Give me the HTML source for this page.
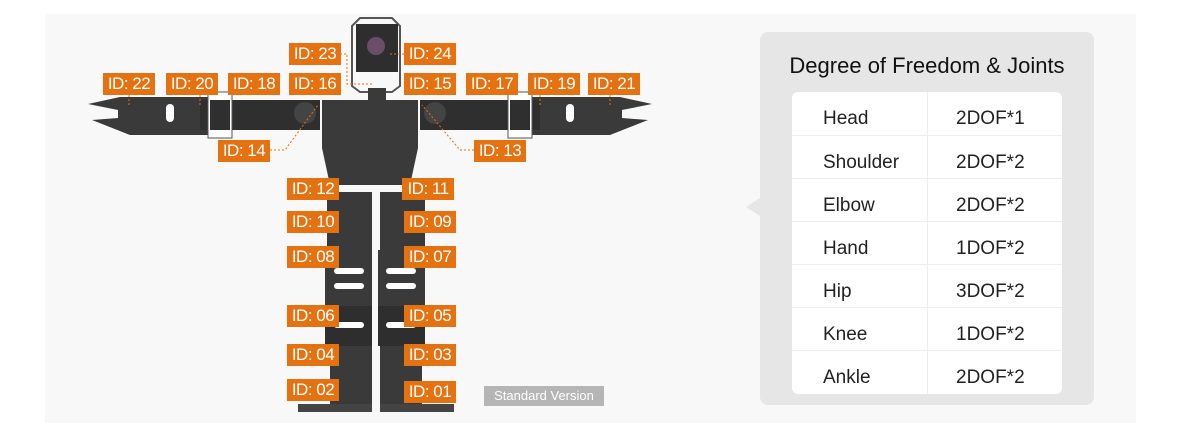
<!DOCTYPE html>
<html><head><meta charset="utf-8"><style>
body{margin:0;width:1200px;height:428px;background:#fff;position:relative;overflow:hidden;font-family:"Liberation Sans",sans-serif}
#bg{position:absolute;left:45px;top:14px;width:1091px;height:409px;background:#f8f8f8}
.id{position:absolute;width:52px;height:22px;background:#e57211;color:#fff;font-size:17px;line-height:22px;text-align:center;letter-spacing:-0.5px}
#panel{position:absolute;left:760px;top:32px;width:334px;height:373px;background:#e6e6e6;border-radius:8px}
#tri{position:absolute;left:746px;top:198px;width:0;height:0;border-top:9px solid transparent;border-bottom:9px solid transparent;border-right:14px solid #e6e6e6}
#title{position:absolute;left:760px;top:53px;width:334px;text-align:center;font-size:22px;color:#111}
#tbl{position:absolute;left:792px;top:92px;width:270px;height:302px;background:#fff;border-radius:6px;overflow:hidden}
.row{position:absolute;left:0;width:270px;height:43px;border-top:1px solid #eee;font-size:19px;color:#222;line-height:43px}
.row span{position:absolute;top:5px}
.a{left:31px}.b{left:164px}
#div{position:absolute;left:135px;top:0;width:1px;height:302px;background:#eee}
#sv{position:absolute;left:484px;top:386px;width:120px;height:20px;background:#b5b5b5;color:#fff;font-size:13px;line-height:20px;text-align:center}
svg{position:absolute;left:0;top:0}
</style></head><body>
<div id="bg"></div>
<svg width="1200" height="428">
<g fill="#3a3a3a">
<!-- head -->
<path d="M352 26 L360 18 L392 18 L400 26 L400 86 L392 92 L360 92 L352 86Z" fill="none" stroke="#555" stroke-width="2"/>
<rect x="356" y="24" width="42" height="48" fill="#2e2e2e"/>
<circle cx="376" cy="46" r="9" fill="#6b4d6a"/>
<rect x="368" y="88" width="18" height="12"/>
<!-- torso -->
<path d="M322 100 L418 100 L418 148 L410 185 L330 185 L322 148Z"/>
<!-- left arm -->
<path d="M88 104 L120 97 L210 97 L210 135 L130 135 L92 120 L118 118 L118 110Z"/>
<rect x="200" y="100" width="120" height="30" fill="#2f2f2f"/>
<rect x="208" y="92" width="24" height="46" fill="#fff" stroke="#555"/>
<rect x="210" y="100" width="20" height="30" fill="#2f2f2f"/>
<circle cx="305" cy="113" r="11" fill="#444"/>
<!-- right arm -->
<path d="M652 104 L620 97 L530 97 L530 135 L610 135 L648 120 L622 118 L622 110Z"/>
<rect x="420" y="100" width="120" height="30" fill="#2f2f2f"/>
<rect x="508" y="92" width="24" height="46" fill="#fff" stroke="#555"/>
<rect x="510" y="100" width="20" height="30" fill="#2f2f2f"/>
<circle cx="435" cy="113" r="11" fill="#444"/>
<!-- legs -->
<rect x="327" y="192" width="45" height="60"/>
<rect x="380" y="192" width="45" height="60"/>
<rect x="325" y="250" width="47" height="60"/>
<rect x="378" y="250" width="47" height="60"/>
<rect x="325" y="306" width="47" height="40" fill="#2e2e2e"/>
<rect x="378" y="306" width="47" height="40" fill="#2e2e2e"/>
<rect x="330" y="346" width="42" height="60"/>
<rect x="380" y="346" width="42" height="60"/>
<rect x="298" y="404" width="74" height="8" fill="#444"/>
<rect x="380" y="404" width="74" height="8" fill="#444"/>
</g>
<g fill="#fff"><rect x="334" y="268" width="30" height="6" rx="3"/><rect x="334" y="283" width="30" height="6" rx="3"/><rect x="386" y="268" width="30" height="6" rx="3"/><rect x="386" y="283" width="30" height="6" rx="3"/><rect x="334" y="322" width="30" height="6" rx="3"/><rect x="386" y="322" width="30" height="6" rx="3"/><rect x="166" y="104" width="8" height="18" rx="4"/><rect x="566" y="104" width="8" height="18" rx="4"/></g>
<g stroke="#e57211" stroke-width="1" stroke-dasharray="2,2" fill="none">
<path d="M340 54 L347 54 L347 84 L372 84"/><path d="M404 54 L390 54"/>
<path d="M270 150 L285 150 L318 105"/><path d="M474 150 L460 150 L422 105"/>
<path d="M129 95 V105"/><path d="M610 95 V105"/><path d="M200 95 V105"/><path d="M540 95 V105"/>
</g>
</svg>
<div class="id" style="left:289px;top:43px">ID: 23</div>
<div class="id" style="left:404px;top:43px">ID: 24</div>
<div class="id" style="left:103px;top:73px">ID: 22</div>
<div class="id" style="left:166px;top:73px">ID: 20</div>
<div class="id" style="left:228px;top:73px">ID: 18</div>
<div class="id" style="left:289px;top:73px">ID: 16</div>
<div class="id" style="left:404px;top:73px">ID: 15</div>
<div class="id" style="left:466px;top:73px">ID: 17</div>
<div class="id" style="left:528px;top:73px">ID: 19</div>
<div class="id" style="left:588px;top:73px">ID: 21</div>
<div class="id" style="left:218px;top:140px">ID: 14</div>
<div class="id" style="left:474px;top:140px">ID: 13</div>
<div class="id" style="left:287px;top:178px">ID: 12</div>
<div class="id" style="left:402px;top:178px">ID: 11</div>
<div class="id" style="left:287px;top:211px">ID: 10</div>
<div class="id" style="left:404px;top:211px">ID: 09</div>
<div class="id" style="left:287px;top:246px">ID: 08</div>
<div class="id" style="left:404px;top:246px">ID: 07</div>
<div class="id" style="left:287px;top:305px">ID: 06</div>
<div class="id" style="left:404px;top:305px">ID: 05</div>
<div class="id" style="left:287px;top:344px">ID: 04</div>
<div class="id" style="left:404px;top:344px">ID: 03</div>
<div class="id" style="left:287px;top:379px">ID: 02</div>
<div class="id" style="left:404px;top:381px">ID: 01</div>
<div id="sv">Standard Version</div>
<div id="tri"></div>
<div id="panel"></div>
<div id="title">Degree of Freedom &amp; Joints</div>
<div id="tbl">
<div class="row" style="top:0;border-top:none"><span class="a">Head</span><span class="b">2DOF*1</span></div>
<div class="row" style="top:43px"><span class="a">Shoulder</span><span class="b">2DOF*2</span></div>
<div class="row" style="top:86px"><span class="a">Elbow</span><span class="b">2DOF*2</span></div>
<div class="row" style="top:129px"><span class="a">Hand</span><span class="b">1DOF*2</span></div>
<div class="row" style="top:172px"><span class="a">Hip</span><span class="b">3DOF*2</span></div>
<div class="row" style="top:215px"><span class="a">Knee</span><span class="b">1DOF*2</span></div>
<div class="row" style="top:258px"><span class="a">Ankle</span><span class="b">2DOF*2</span></div>
<div id="div"></div>
</div>
</body></html>
